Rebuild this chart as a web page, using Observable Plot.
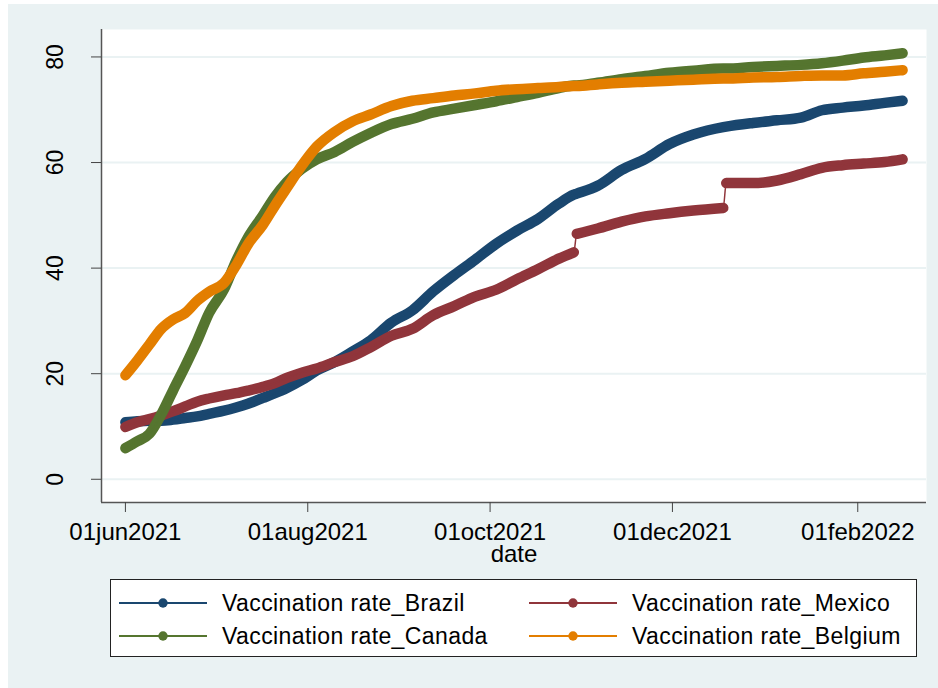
<!DOCTYPE html>
<html><head><meta charset="utf-8">
<script src="https://cdn.jsdelivr.net/npm/d3@7"></script>
<script src="https://cdn.jsdelivr.net/npm/@observablehq/plot@0.6"></script>
<style>
html,body{margin:0;padding:0;background:#fff;overflow:hidden}
#graph{position:absolute;left:8px;top:4px;width:930px;height:684px;background:#EAF2F3}
#graph > svg.chart{position:absolute;left:0;top:0}
#graph > svg#legend{position:absolute;left:102px;top:575px}
</style></head><body><div id="graph"></div>
<script>
// ---- data ----
const dates = ["2021-06-01","2021-06-05","2021-06-09","2021-06-13","2021-06-17","2021-06-21","2021-06-25","2021-06-29",
  "2021-07-04","2021-07-08","2021-07-12","2021-07-17","2021-07-21","2021-07-25","2021-07-30",
  "2021-08-04","2021-08-10","2021-08-16","2021-08-22","2021-08-29",
  "2021-09-05","2021-09-12","2021-09-19","2021-09-26",
  "2021-10-03","2021-10-10","2021-10-17","2021-10-24","2021-10-29","2021-10-30",
  "2021-11-06","2021-11-14","2021-11-22","2021-11-30",
  "2021-12-08","2021-12-18","2021-12-19","2021-12-28",
  "2022-01-05","2022-01-13","2022-01-20","2022-01-27",
  "2022-02-03","2022-02-10","2022-02-16"];
const brazil  = [10.8,11.0,11.1,11.1,11.3,11.6,11.9,12.4, 13.0,13.6,14.3,15.4,16.3,17.3,18.8, 20.6,22.2,24.2,26.3,29.7, 32.0,35.6,38.7,41.6, 44.6,47.1,49.3,52.2,53.9,54.1, 55.6,58.6,60.7,63.5, 65.3,66.7,66.8,67.5, 68.0,68.5,69.9,70.4, 70.8,71.3,71.7];
const mexico  = [9.9,10.8,11.4,12.1,12.9,13.8,14.7,15.3, 15.9,16.3,16.8,17.5,18.2,19.2,20.2, 21.0,22.2,23.3,25.0,27.2, 28.5,31.1,32.8,34.6, 35.9,37.9,39.8,41.8,43.0,46.5, 47.5,48.8,49.8,50.4, 50.9,51.4,56.1,56.1, 56.6,57.8,59.0,59.5, 59.8,60.1,60.6];
const canada  = [5.9,7.2,8.6,12.3,16.9,21.4,26.2,31.5, 36.0,41.3,45.8,50.0,53.5,56.3,58.8, 60.6,62.0,63.9,65.6,67.3, 68.3,69.5,70.2,70.9, 71.6,72.4,73.2,74.1,74.6,74.6, 75.1,75.8,76.4,77.0, 77.4,77.8,77.8,78.1, 78.3,78.5,78.8,79.3, 79.9,80.3,80.7];
const belgium = [19.7,22.5,25.5,28.5,30.3,31.5,33.8,35.5, 37.2,40.5,44.5,48.2,51.8,55.2,59.4, 63.0,65.8,67.8,69.1,70.7, 71.7,72.2,72.7,73.1, 73.6,73.9,74.1,74.3,74.5,74.5, 74.8,75.1,75.3,75.5, 75.7,75.9,75.9,76.1, 76.2,76.4,76.5,76.5, 76.9,77.2,77.5];
const seriesNames  = ["Vaccination rate_Brazil","Vaccination rate_Mexico","Vaccination rate_Canada","Vaccination rate_Belgium"];
const seriesColors = ["#1a476f","#90353b","#55752f","#e37e00"];
const mexicoBreaks = ["2021-10-30","2021-12-19"];
const xTicks  = ["2021-06-01","2021-08-01","2021-10-01","2021-12-01","2022-02-01"];
const yTicks  = [0,20,40,60,80];
const xDomain = ["2021-05-24","2022-02-24"];
const yDomain = [-4.4, 85.2];
const xLabel  = "date";

// ---- build table ----
const parse = s => new Date(s + "T00:00:00Z");
const valueSets = [brazil, mexico, canada, belgium];
const rows = [];
valueSets.forEach((vals, i) => {
  vals.forEach((v, j) => {
    const dt = parse(dates[j]);
    const brk = i === 1 ? mexicoBreaks.filter(b => parse(b) <= dt).length : 0;
    rows.push({date: dt, value: v, series: seriesNames[i], seg: seriesNames[i] + "#" + brk});
  });
});

const fontFamily = "'Liberation Sans', Arial, Helvetica, sans-serif";
const fmt = d => d3.utcFormat("%d%b%Y")(d).toLowerCase();

const seriesMarks = [];
seriesNames.forEach(name => {
  const data = rows.filter(r => r.series === name);
  seriesMarks.push(Plot.line(data, {x: "date", y: "value", z: "seg", stroke: "series", strokeWidth: 10.5, strokeLinecap: "round", strokeLinejoin: "round", curve: "monotone-x"}));
  seriesMarks.push(Plot.line(data, {x: "date", y: "value", stroke: "series", strokeWidth: 1.5, curve: "monotone-x"}));
});

const chart = Plot.plot({
  className: "chart",
  width: 930, height: 560,
  marginLeft: 93, marginRight: 12, marginTop: 25, marginBottom: 62,
  x: {type: "utc", domain: xDomain.map(parse)},
  y: {domain: yDomain},
  color: {domain: seriesNames, range: seriesColors},
  style: {background: "transparent", fontFamily, fontSize: "23px", color: "#000", overflow: "visible"},
  marks: [
    Plot.frame({fill: "white", stroke: "none"}),
    Plot.gridY(yTicks, {stroke: "#EAF2F3", strokeOpacity: 1, strokeWidth: 2}),
    ...seriesMarks,
    Plot.ruleX([parse(xDomain[0])], {stroke: "#555", strokeWidth: 1.5}),
    Plot.ruleY([yDomain[0]], {stroke: "#555", strokeWidth: 1.5}),
    Plot.axisY(yTicks, {tickSize: 10, tickPadding: 29, tickRotate: -90, fontSize: 23, stroke: "#444", fill: "#000", label: null}),
    Plot.axisX(xTicks.map(parse), {tickSize: 10, tickPadding: 10, tickFormat: fmt, fontSize: 24, stroke: "#444", fill: "#000", label: null}),
    Plot.text([xLabel], {frameAnchor: "bottom", dy: 52, fontSize: 24, lineAnchor: "middle", fill: "#000"})
  ]
});
chart.classList.add("chart");
document.getElementById("graph").appendChild(chart);

// ---- legend (below the plot) ----
const lg = d3.create("svg").attr("id", "legend").attr("width", 808).attr("height", 79)
  .style("font-family", fontFamily);
lg.append("rect").attr("x", 0.5).attr("y", 0.5).attr("width", 806).attr("height", 77)
  .attr("fill", "white").attr("stroke", "#222").attr("stroke-width", 1);
seriesNames.forEach((name, i) => {
  const col = i % 2, row = Math.floor(i / 2);
  const x0 = col === 0 ? 9 : 419;
  const ys = row === 0 ? 24 : 57;
  const g = lg.append("g");
  g.append("line").attr("x1", x0).attr("x2", x0 + 88).attr("y1", ys).attr("y2", ys)
    .attr("stroke", seriesColors[i]).attr("stroke-width", 2);
  g.append("circle").attr("cx", x0 + 44).attr("cy", ys).attr("r", 4.7).attr("fill", seriesColors[i]);
  g.append("text").attr("x", x0 + 103).attr("y", ys + 8).attr("font-size", 23)
    .attr("letter-spacing", "0.4px").attr("fill", "#000").text(name);
});
document.getElementById("graph").appendChild(lg.node());
</script></body></html>
